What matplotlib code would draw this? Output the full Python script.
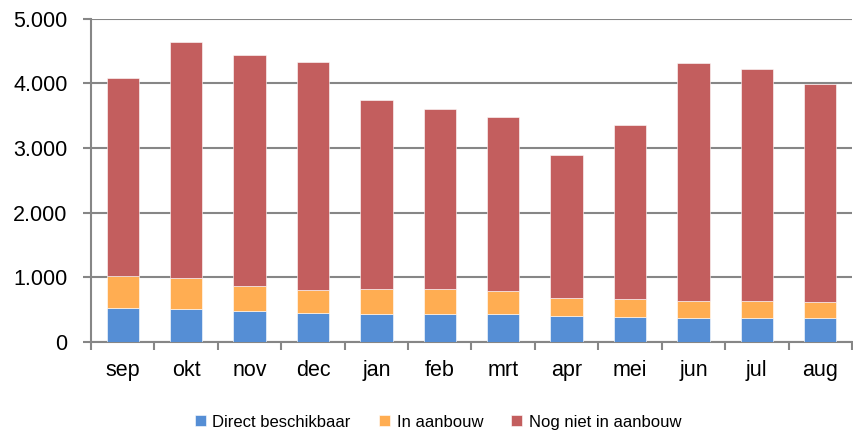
import matplotlib.pyplot as plt
import numpy as np
from matplotlib.ticker import FuncFormatter, FixedLocator

plt.rcParams["font.family"] = ["Liberation Sans", "DejaVu Sans"]

months = ["sep", "okt", "nov", "dec", "jan", "feb", "mrt", "apr", "mei", "jun", "jul", "aug"]
direct = [526, 517, 475, 444, 433, 429, 433, 398, 387, 372, 377, 377]
aanbouw = [491, 469, 398, 361, 393, 387, 362, 283, 285, 258, 258, 242]
nietAanbouw = [3070, 3658, 3560, 3520, 2920, 2791, 2679, 2220, 2687, 3680, 3591, 3375]

colDirect = "#558ED5"
colAanbouw = "#FFAD52"
colNiet = "#C35E5E"

fig = plt.figure(figsize=(8.54, 4.38), dpi=100)
ax = fig.add_axes([0.1066, 0.219, 0.891, 0.738])

x = np.arange(len(months))
width = 0.51
bottom2 = np.array(direct)
bottom3 = bottom2 + np.array(aanbouw)
ax.bar(x, direct, width, color=colDirect, edgecolor="white", linewidth=0.4, label="Direct beschikbaar", zorder=3)
ax.bar(x, aanbouw, width, bottom=bottom2, color=colAanbouw, edgecolor="white", linewidth=0.4, label="In aanbouw", zorder=3)
ax.bar(x, nietAanbouw, width, bottom=bottom3, color=colNiet, edgecolor="white", linewidth=0.4, label="Nog niet in aanbouw", zorder=3)

ax.set_xlim(-0.5, len(months) - 0.5)
ax.set_ylim(0, 5000)
ax.set_yticks([0, 1000, 2000, 3000, 4000, 5000])
ax.yaxis.set_major_formatter(FuncFormatter(lambda v, p: f"{int(v):,}".replace(",", ".")))
ax.yaxis.grid(True, color="#868686", linewidth=1.5, zorder=0)

ax.set_xticks(x)
ax.set_xticklabels(months)
ax.xaxis.set_minor_locator(FixedLocator(np.arange(-0.5, len(months), 1.0)))
ax.tick_params(axis="x", which="major", length=0, labelsize=15.5, pad=13)
ax.tick_params(axis="x", which="minor", length=6, width=1.5, color="#868686")
ax.tick_params(axis="y", length=6, width=1.5, color="#868686", labelsize=15.5, pad=11)

for s in ["top", "right"]:
    ax.spines[s].set_visible(False)
for s in ["left", "bottom"]:
    ax.spines[s].set_color("#868686")
    ax.spines[s].set_linewidth(1.5)

fig.legend(loc="lower center", bbox_to_anchor=(0.513, -0.015), ncol=3, frameon=False,
           fontsize=12, handlelength=0.65, handleheight=0.65, handletextpad=0.4, columnspacing=1.7)

fig.savefig("out.png", dpi=100)
